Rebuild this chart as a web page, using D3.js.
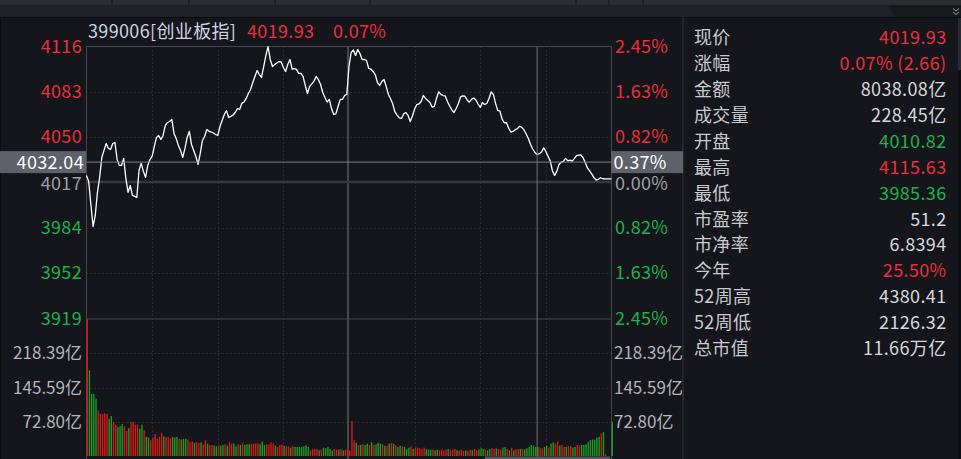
<!DOCTYPE html>
<html><head><meta charset="utf-8">
<script src="https://cdn.jsdelivr.net/npm/d3@7"></script>
<style>
html,body{margin:0;padding:0;background:#14161b;overflow:hidden}
svg{display:block}
text{font-family:"Noto Sans CJK SC","Noto Sans",sans-serif;letter-spacing:0.35px}
text.vol{letter-spacing:0}
</style></head><body>
<svg id="c" width="961" height="459"></svg>
<script>
// ---------------- data ----------------
const prevClose = 4017.27;
const prices = [
4022.4,4018.0,4001.4,3985.4,3993.4,4010.1,4020.9,4035.4,4040.5,4045.5,
4041.9,4041.2,4045.5,4046.2,4033.9,4029.6,4029.6,4034.7,4020.2,4010.1,
4015.1,4007.9,4007.2,4006.4,4026.0,4031.1,4025.3,4020.9,4029.6,4033.9,
4036.1,4043.4,4049.9,4051.3,4048.4,4051.3,4058.5,4060.7,4061.4,4062.9,
4052.8,4049.1,4044.1,4040.5,4035.4,4041.9,4049.9,4054.2,4044.8,4040.5,
4036.1,4030.3,4038.3,4047.7,4050.6,4055.6,4054.4,4053.8,4053.1,4052.0,
4051.3,4057.8,4062.2,4066.5,4069.4,4064.3,4065.1,4066.1,4067.9,4070.8,
4070.1,4074.5,4075.5,4078.1,4081.7,4084.6,4089.6,4094.0,4098.3,4095.4,
4093.3,4101.2,4109.2,4115.6,4106.3,4101.2,4102.7,4103.8,4104.8,4104.5,
4100.5,4097.6,4102.7,4106.3,4099.4,4099.6,4099.1,4096.2,4096.2,4094.0,
4087.5,4081.7,4086.8,4088.6,4090.6,4094.0,4091.8,4088.2,4082.4,4078.8,
4075.5,4077.4,4070.8,4066.5,4066.9,4072.3,4077.4,4077.4,4080.2,4081.0,
4101.4,4111.4,4113.2,4109.2,4113.5,4110.6,4106.3,4106.3,4105.6,4099.8,
4099.4,4097.6,4095.4,4089.6,4087.5,4090.4,4091.8,4086.8,4081.0,4077.9,
4074.1,4068.3,4066.1,4064.0,4063.6,4066.9,4067.9,4065.8,4061.4,4065.4,
4070.5,4073.7,4074.1,4075.9,4080.2,4078.1,4076.6,4075.2,4071.9,4072.3,
4078.1,4082.9,4081.0,4080.2,4079.9,4075.9,4072.6,4069.8,4067.9,4070.8,
4074.5,4079.2,4080.0,4079.7,4077.0,4075.4,4077.4,4078.4,4077.0,4074.1,
4071.6,4075.2,4073.7,4074.5,4078.1,4082.8,4081.0,4074.5,4069.4,4068.9,
4063.2,4060.5,4060.5,4056.6,4053.8,4054.2,4055.4,4056.4,4058.0,4057.2,
4055.3,4052.4,4049.1,4044.8,4041.5,4039.0,4037.6,4038.1,4039.3,4042.3,
4039.7,4036.3,4032.9,4025.6,4022.4,4025.3,4030.3,4032.0,4032.5,4034.7,
4033.0,4033.4,4032.7,4034.5,4036.8,4037.1,4037.3,4035.2,4031.8,4027.8,
4025.6,4023.3,4020.8,4019.1,4019.6,4020.7,4020.0,4019.93,4019.93,4019.93,4019.93
];
const volumes = [
291,182,132,132,122,96.4,89.2,89,90.6,89,
79.2,85,72,66.4,62,63.5,67.8,63.5,53.5,59.2,
72,72,66.4,66.4,57.8,66.4,55,40.7,39.2,33.5,
39.2,46.4,36.4,40.7,49.2,42.1,40.7,40.7,37.8,40.7,
39.2,40.7,36.4,35,36.4,36.4,35,29.3,30.7,27.8,
29.3,27.8,29.3,25,33.5,26.4,23.5,23.5,22.1,20.7,
22.1,22.1,23.5,25,22,29.3,26.4,26.4,20.7,25,
23.5,26.4,23.5,25,25,25,26.4,26.4,27.8,25,
30.7,23.5,25,25,29.3,26.4,22,19.3,23.5,25,
22,20.7,20.7,17.8,20.7,19.3,19.3,19.3,19.3,20.7,
22,19.3,12.1,15,15,15,12.1,13.6,17.8,16.4,
19.3,15,12.1,15,13.6,13.6,15,12.1,13.6,13.6,
12,
75,33.5,27.8,23.5,23.5,25,23.5,26.4,23.5,29.3,
23.5,25,27.8,26.4,25,22,22,26.4,27.8,26.4,
23.5,19.3,22,20.7,19.3,15,17.8,20.7,15,17.8,
17.8,16.4,15,17.8,15,13.6,13.6,13.6,12.1,13.6,
12.1,13.6,12.1,13.6,15,12.1,13.6,15,12.1,12.1,
13.6,10.7,12.1,10.7,13.6,12.1,15,12.1,13.6,16.4,
15,13.6,12.1,15,16.4,15,16.4,15,13.6,17.8,
19.3,15,12.1,17.8,12.1,15,15,15,15,15,
16.4,19.3,23.5,22,19.3,19.3,17.8,16.4,19.3,22,
17.8,26.4,29.3,26.4,30.7,22,23.5,19.3,19.3,20.7,
20.7,17.8,19.3,23.5,22,23.5,23.5,25,29.3,33.5,
35,35,39.2,40.7,47.8,50.7,3.6,0,0,72.8
];
const volUp = [
1,0,0,0,0,1,1,1,1,1, 0,0,1,1,0,0,0,1,1,0, 1,1,1,1,0,0,1,0,0,1, 1,1,1,1,1,0,1,1,1,0,
0,0,1,0,0,0,1,1,1,0, 1,1,0,1,1,0,1,1,0,0, 1,0,0,1,0,1,1,0,0,1, 0,1,0,0,0,1,1,1,1,0,
0,0,1,1,1,1,0,1,1,1, 0,1,1,0,1,0,0,0,0,0, 0,0,1,1,1,1,0,1,0,0, 0,0,0,1,1,0,1,0,1,1,
1,
1,1,0,1,0,1,0,0,1,0, 1,0,0,0,1,0,1,0,1,0, 1,0,0,1,0,0,0,1,0,1, 1,1,1,1,0,0,0,1,0,0,
1,1,1,1,0,1,1,1,0,1, 1,1,0,1,1,0,1,1,0,0, 0,1,0,0,1,1,0,1,1,0, 0,1,0,1,0,1,1,0,1,0,
0,0,0,0,0,0,1,1,0,0, 1,0,0,1,1,0,1,1,0,1, 1,0,0,1,1,0,0,0,0,0, 0,0,0,0,1,0,1,0,0,0
];
const pctTicks = [2.45, 1.63, 0.82, 0, -0.82, -1.63, -2.45];
const priceTickLabels = ["4116","4083","4050","4017","3984","3952","3919"];
const pctTickLabels = ["2.45%","1.63%","0.82%","0.00%","0.82%","1.63%","2.45%"];
const volTicks = [218.39, 145.59, 72.80];
const volTickLabels = ["218.39亿","145.59亿","72.80亿"];
const volMax = 291.19;
const gridMinutes = [30, 60, 90, 150, 180, 210];
const middayMinute = 120;
const crossMinute = 206;
const crossPrice = 4032.04;
const titleCode = "399006[创业板指]";
const titleLast = "4019.93";
const titlePct = "0.07%";
const infoLabels = ["现价","涨幅","金额","成交量","开盘","最高","最低","市盈率","市净率","今年","52周高","52周低","总市值"];
const infoValues = ["4019.93","0.07% (2.66)","8038.08亿","228.45亿","4010.82","4115.63","3985.36","51.2","6.8394","25.50%","4380.41","2126.32","11.66万亿"];
const infoTone = ["up","up","flat","flat","down","up","down","flat","flat","up","flat","flat","flat"];

// ---------------- styles ----------------
const RED = "#ec2e3a", GREEN = "#1fb24b", GRAY = "#9ea0a6", LIGHT = "#d6d8dc";
const BAR_RED = "#d71a1a", BAR_GREEN = "#1c9f22";
const toneColor = t => t === "up" ? RED : t === "down" ? GREEN : LIGHT;

const svg = d3.select("#c");
const W = 961, H = 459;
const L = 86.5, R = 611.5, T = 46.5, PB = 318.5, VB = 456;

// chrome
svg.append("rect").attr("x",0).attr("y",0).attr("width",W).attr("height",H).attr("fill","#14161b");
svg.append("rect").attr("x",0).attr("y",0).attr("width",W).attr("height",5).attr("fill","#2b2d32");
[112,189,275,370,576,609,643].forEach(sx => svg.append("line").attr("x1",sx).attr("x2",sx).attr("y1",0).attr("y2",5).attr("stroke","#15171b"));
svg.append("rect").attr("x",0).attr("y",5).attr("width",W).attr("height",12).attr("fill","#1f2126");
svg.append("path").attr("d","M888,5 L961,5 L961,17 L895,17 Z").attr("fill","#17191d");
svg.append("path").attr("d","M953,8.5 L956,11 L959,8.5 M953,12 L956,14.5 L959,12").attr("fill","none").attr("stroke","#9a9ca2").attr("stroke-width",1);
svg.append("line").attr("x1",0).attr("x2",W).attr("y1",17.5).attr("y2",17.5).attr("stroke","#0b0c0e");
svg.append("line").attr("x1",0.5).attr("x2",0.5).attr("y1",17).attr("y2",H).attr("stroke","#0b0c0e");
svg.append("line").attr("x1",683).attr("x2",683).attr("y1",17).attr("y2",H).attr("stroke","#2a2c31").attr("stroke-width",1.5);
svg.append("rect").attr("x",958).attr("y",17).attr("width",3).attr("height",H-17).attr("fill","#0e0f12");
svg.append("rect").attr("x",958).attr("y",18).attr("width",3).attr("height",52).attr("fill","#2a2c31");

// scales
const x = d3.scaleLinear().domain([0, 240]).range([L, R]);
const y = d3.scaleLinear().domain([prevClose*(1-0.0245), prevClose*(1+0.0245)]).range([PB, T]);
const yv = d3.scaleLinear().domain([0, volMax]).range([VB, 319]);
const pY = p => y(prevClose*(1+p/100));

// grid
const g = svg.append("g");
pctTicks.forEach(p => {
  if (Math.abs(p) === 2.45 || p === 0) return;
  g.append("line").attr("x1",L).attr("x2",R).attr("y1",Math.round(pY(p))+0.5).attr("y2",Math.round(pY(p))+0.5)
   .attr("stroke","#3d3f46").attr("stroke-dasharray","1,3");
});
volTicks.forEach(v => g.append("line").attr("x1",L).attr("x2",R).attr("y1",Math.round(yv(v))+0.5).attr("y2",Math.round(yv(v))+0.5)
   .attr("stroke","#3d3f46").attr("stroke-dasharray","1,3"));
gridMinutes.forEach(m => g.append("line").attr("x1",Math.round(x(m))+0.5).attr("x2",Math.round(x(m))+0.5).attr("y1",T).attr("y2",VB)
   .attr("stroke","#3d3f46").attr("stroke-dasharray","1,3"));
g.append("line").attr("x1",x(middayMinute)-1).attr("x2",x(middayMinute)-1).attr("y1",T).attr("y2",H).attr("stroke","#46484e").attr("stroke-width",2);
g.append("line").attr("x1",L).attr("x2",R).attr("y1",y(prevClose)-0.5).attr("y2",y(prevClose)-0.5).attr("stroke","#36383d").attr("stroke-width",2.5);
g.append("line").attr("x1",L).attr("x2",R).attr("y1",T).attr("y2",T).attr("stroke","#45474d");
g.append("line").attr("x1",L).attr("x2",R).attr("y1",PB+0.5).attr("y2",PB+0.5).attr("stroke","#45474d");
g.append("line").attr("x1",L).attr("x2",L).attr("y1",T).attr("y2",H).attr("stroke","#45474d");
g.append("line").attr("x1",R).attr("x2",R).attr("y1",T).attr("y2",H).attr("stroke","#45474d");

// volume bars
svg.append("g").selectAll("rect").data(volumes).join("rect")
  .attr("x",(d,i)=>x(i)+0.1).attr("width",1.35)
  .attr("y",d=>yv(d)).attr("height",d=>VB-yv(d))
  .attr("fill",(d,i)=>volUp[i] ? BAR_RED : BAR_GREEN);

// price line
svg.append("path").datum(prices)
  .attr("d", d3.line().x((d,i)=>x(i)).y(d=>y(d)))
  .attr("fill","none").attr("stroke","#ffffff").attr("stroke-width",1.3).attr("stroke-linejoin","round");

// crosshair
const cy = y(crossPrice), cx = x(crossMinute);
svg.append("line").attr("x1",L).attr("x2",R).attr("y1",cy).attr("y2",cy).attr("stroke","#7d7f85");
svg.append("line").attr("x1",cx).attr("x2",cx).attr("y1",T).attr("y2",H).attr("stroke","#707278");

// axis labels
const FS = 18;
pctTicks.forEach((p,i) => {
  const col = p > 0 ? RED : p < 0 ? GREEN : GRAY;
  const yy = p === 0 ? pY(p) + 1.5 : pY(p);
  svg.append("text").attr("x",82).attr("y",yy).attr("dy","0.36em").attr("text-anchor","end")
    .attr("font-size",FS).attr("fill",col).text(priceTickLabels[i]);
  svg.append("text").attr("x",615).attr("y",yy).attr("dy","0.36em")
    .attr("font-size",FS).attr("fill",col).text(pctTickLabels[i]);
});
volTicks.forEach((v,i) => {
  svg.append("text").attr("class","vol").attr("x",82).attr("y",yv(v)).attr("dy","0.36em").attr("text-anchor","end")
    .attr("font-size",17).attr("fill","#b3b5bb").text(volTickLabels[i]);
  svg.append("text").attr("class","vol").attr("x",614).attr("y",yv(v)).attr("dy","0.36em")
    .attr("font-size",17).attr("fill","#b3b5bb").text(volTickLabels[i]);
});

// crosshair labels
svg.append("rect").attr("x",0).attr("y",cy-11).attr("width",86).attr("height",22).attr("fill","#5e606a");
svg.append("text").attr("x",84).attr("y",cy).attr("dy","0.36em").attr("text-anchor","end").attr("font-size",FS).attr("fill","#ffffff")
  .text(crossPrice.toFixed(2));
svg.append("rect").attr("x",611).attr("y",cy-11).attr("width",72).attr("height",22).attr("fill","#5e606a");
svg.append("text").attr("x",613.5).attr("y",cy).attr("dy","0.36em").attr("font-size",FS).attr("fill","#ffffff")
  .text(((crossPrice/prevClose-1)*100).toFixed(2)+"%");

// title
svg.append("text").attr("x",88).attr("y",31.5).attr("dy","0.36em").attr("font-size",FS).attr("fill","#ccd4e0").text(titleCode);
svg.append("text").attr("x",247).attr("y",31.5).attr("dy","0.36em").attr("font-size",FS).attr("fill",RED).text(titleLast);
svg.append("text").attr("x",333).attr("y",31.5).attr("dy","0.36em").attr("font-size",FS).attr("fill",RED).text(titlePct);

// info panel
infoLabels.forEach((lab,i) => {
  const ry = 37.8 + i*25.9;
  svg.append("text").attr("x",694).attr("y",ry).attr("dy","0.36em").attr("font-size",FS).attr("fill","#c8cacf").text(lab);
  svg.append("text").attr("x",946.5).attr("y",ry).attr("dy","0.36em").attr("text-anchor","end").attr("font-size",FS)
    .attr("fill",toneColor(infoTone[i])).text(infoValues[i]);
});

// bottom scrollbar
svg.append("rect").attr("x",485).attr("y",456.5).attr("width",125).attr("height",3).attr("fill","#55575d");
</script>
</body></html>
